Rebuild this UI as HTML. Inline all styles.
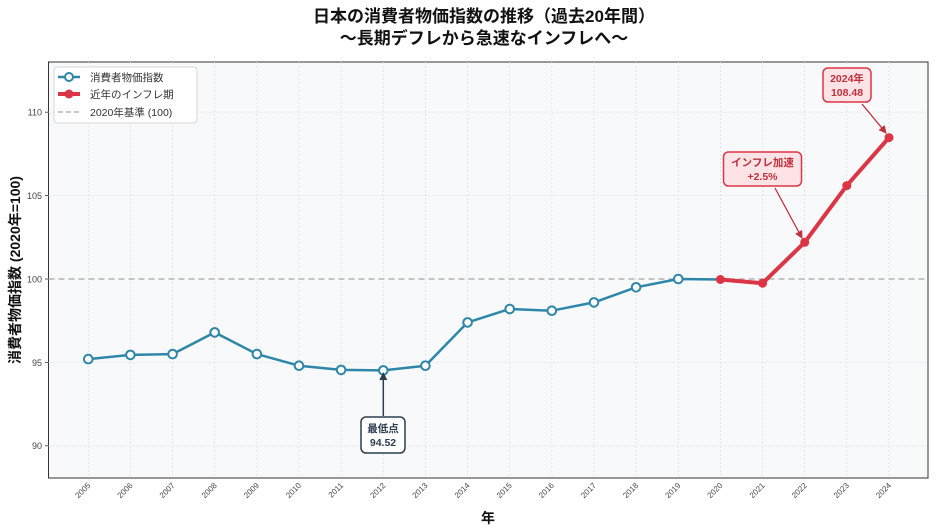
<!DOCTYPE html>
<html><head><meta charset="utf-8"><style>
body{margin:0;background:#fff;}
svg{display:block;font-family:"Liberation Sans","Noto Sans CJK JP",sans-serif;}
</style></head><body>
<svg width="936" height="532" viewBox="0 0 936 532" xmlns="http://www.w3.org/2000/svg">
<defs>
<marker id="ar" markerWidth="8" markerHeight="8" refX="7" refY="4" orient="auto" markerUnits="userSpaceOnUse"><path d="M0,0 L8,4 L0,8 Z" fill="#c0303d"/></marker>
<marker id="ak" markerWidth="8" markerHeight="8" refX="7" refY="4" orient="auto" markerUnits="userSpaceOnUse"><path d="M0,0 L8,4 L0,8 Z" fill="#2c3e50"/></marker>
</defs>
<text x="484" y="22" text-anchor="middle" font-size="17" font-weight="bold" fill="#111">日本の消費者物価指数の推移（過去20年間）</text>
<text x="484" y="44" text-anchor="middle" font-size="17" font-weight="bold" fill="#111">～長期デフレから急速なインフレへ～</text>
<rect x="48.5" y="62" width="879.5" height="416" fill="#f8f9fa" stroke="#333" stroke-width="1"/>
<g stroke="#dde1e6" stroke-width="0.8" stroke-dasharray="2,2">
<line x1="48.5" x2="928" y1="112.2" y2="112.2"/><line x1="48.5" x2="928" y1="195.6" y2="195.6"/><line x1="48.5" x2="928" y1="362.4" y2="362.4"/><line x1="48.5" x2="928" y1="445.8" y2="445.8"/>
<line x1="88.3" x2="88.3" y1="62" y2="478"/><line x1="130.4" x2="130.4" y1="62" y2="478"/><line x1="172.6" x2="172.6" y1="62" y2="478"/><line x1="214.7" x2="214.7" y1="62" y2="478"/><line x1="256.9" x2="256.9" y1="62" y2="478"/><line x1="299" x2="299" y1="62" y2="478"/><line x1="341.1" x2="341.1" y1="62" y2="478"/><line x1="383.3" x2="383.3" y1="62" y2="478"/><line x1="425.4" x2="425.4" y1="62" y2="478"/><line x1="467.6" x2="467.6" y1="62" y2="478"/><line x1="509.7" x2="509.7" y1="62" y2="478"/><line x1="551.8" x2="551.8" y1="62" y2="478"/><line x1="594" x2="594" y1="62" y2="478"/><line x1="636.1" x2="636.1" y1="62" y2="478"/><line x1="678.3" x2="678.3" y1="62" y2="478"/><line x1="720.4" x2="720.4" y1="62" y2="478"/><line x1="762.6" x2="762.6" y1="62" y2="478"/><line x1="804.7" x2="804.7" y1="62" y2="478"/><line x1="846.8" x2="846.8" y1="62" y2="478"/><line x1="889" x2="889" y1="62" y2="478"/>
</g>
<line x1="48.5" x2="928" y1="279" y2="279" stroke="#b5b5b5" stroke-width="1.5" stroke-dasharray="6,4"/>
<g font-size="9" fill="#444" text-anchor="end">
<text x="42" y="115.5">110</text><text x="42" y="199">105</text><text x="42" y="282.5">100</text><text x="42" y="366">95</text><text x="42" y="449">90</text>
</g>
<g stroke="#333" stroke-width="0.8">
<line x1="45" x2="48.5" y1="112.2" y2="112.2"/><line x1="45" x2="48.5" y1="195.6" y2="195.6"/><line x1="45" x2="48.5" y1="279" y2="279"/><line x1="45" x2="48.5" y1="362.4" y2="362.4"/><line x1="45" x2="48.5" y1="445.8" y2="445.8"/>
</g>
<g font-size="8" fill="#444" text-anchor="end">
<text transform="translate(91,486) rotate(-45)">2005</text><text transform="translate(133.1,486) rotate(-45)">2006</text><text transform="translate(175.3,486) rotate(-45)">2007</text><text transform="translate(217.4,486) rotate(-45)">2008</text><text transform="translate(259.6,486) rotate(-45)">2009</text><text transform="translate(301.7,486) rotate(-45)">2010</text><text transform="translate(343.8,486) rotate(-45)">2011</text><text transform="translate(386,486) rotate(-45)">2012</text><text transform="translate(428.1,486) rotate(-45)">2013</text><text transform="translate(470.3,486) rotate(-45)">2014</text><text transform="translate(512.4,486) rotate(-45)">2015</text><text transform="translate(554.5,486) rotate(-45)">2016</text><text transform="translate(596.7,486) rotate(-45)">2017</text><text transform="translate(638.8,486) rotate(-45)">2018</text><text transform="translate(681,486) rotate(-45)">2019</text><text transform="translate(723.1,486) rotate(-45)">2020</text><text transform="translate(765.3,486) rotate(-45)">2021</text><text transform="translate(807.4,486) rotate(-45)">2022</text><text transform="translate(849.5,486) rotate(-45)">2023</text><text transform="translate(891.7,486) rotate(-45)">2024</text>
</g>
<text x="488" y="523" text-anchor="middle" font-size="14" font-weight="bold" fill="#111">年</text>
<text transform="translate(20,270) rotate(-90)" text-anchor="middle" font-size="14" font-weight="bold" fill="#111">消費者物価指数 (2020年=100)</text>
<polyline fill="none" stroke="#2e86a8" stroke-width="2.5" stroke-linejoin="round" points="88.3,359.1 130.4,354.9 172.6,354.1 214.7,332.4 256.9,354.1 299,365.7 341.1,369.9 383.3,370.4 425.4,365.7 467.6,322.4 509.7,309 551.8,310.7 594,302.4 636.1,287.3 678.3,279 720.4,279.5"/>
<g fill="#fff" stroke="#2e86a8" stroke-width="2">
<circle cx="88.3" cy="359.1" r="4.3"/><circle cx="130.4" cy="354.9" r="4.3"/><circle cx="172.6" cy="354.1" r="4.3"/><circle cx="214.7" cy="332.4" r="4.3"/><circle cx="256.9" cy="354.1" r="4.3"/><circle cx="299" cy="365.7" r="4.3"/><circle cx="341.1" cy="369.9" r="4.3"/><circle cx="383.3" cy="370.4" r="4.3"/><circle cx="425.4" cy="365.7" r="4.3"/><circle cx="467.6" cy="322.4" r="4.3"/><circle cx="509.7" cy="309" r="4.3"/><circle cx="551.8" cy="310.7" r="4.3"/><circle cx="594" cy="302.4" r="4.3"/><circle cx="636.1" cy="287.3" r="4.3"/><circle cx="678.3" cy="279" r="4.3"/>
</g>
<polyline fill="none" stroke="#dc3545" stroke-width="4" stroke-linejoin="round" points="720.4,279.5 762.6,283.2 804.7,242.3 846.8,185.6 889,137.6"/>
<g fill="#dc3545"><circle cx="720.4" cy="279.5" r="4.5"/><circle cx="762.6" cy="283.2" r="4.5"/><circle cx="804.7" cy="242.3" r="4.5"/><circle cx="846.8" cy="185.6" r="4.5"/><circle cx="889" cy="137.6" r="4.5"/></g>
<line x1="383.3" y1="416" x2="383.3" y2="373" stroke="#2c3e50" stroke-width="1.5" marker-end="url(#ak)"/>
<rect x="361" y="417" width="44" height="36" rx="5" fill="#fff" stroke="#2c3e50" stroke-width="1.5"/>
<text x="383" y="432" text-anchor="middle" font-size="10.5" font-weight="bold" fill="#2c3e50">最低点</text>
<text x="383" y="446" text-anchor="middle" font-size="10.5" font-weight="bold" fill="#2c3e50">94.52</text>
<line x1="775" y1="188" x2="802" y2="238" stroke="#c0303d" stroke-width="1.3" marker-end="url(#ar)"/>
<rect x="723.5" y="152" width="78" height="34" rx="5" fill="#fde3e5" stroke="#dc3545" stroke-width="1.5"/>
<text x="762.5" y="166" text-anchor="middle" font-size="10.5" font-weight="bold" fill="#c0303d">インフレ加速</text>
<text x="762.5" y="180" text-anchor="middle" font-size="10.5" font-weight="bold" fill="#c0303d">+2.5%</text>
<line x1="862" y1="104" x2="886" y2="133" stroke="#c0303d" stroke-width="1.3" marker-end="url(#ar)"/>
<rect x="823" y="68" width="48" height="34" rx="5" fill="#fde3e5" stroke="#dc3545" stroke-width="1.5"/>
<text x="847" y="82" text-anchor="middle" font-size="10.5" font-weight="bold" fill="#c0303d">2024年</text>
<text x="847" y="96" text-anchor="middle" font-size="10.5" font-weight="bold" fill="#c0303d">108.48</text>
<rect x="54" y="67" width="143" height="56" rx="3" fill="#fff" fill-opacity="0.9" stroke="#ccc" stroke-width="0.8"/>
<line x1="58" x2="80" y1="77" y2="77" stroke="#2e86a8" stroke-width="2.5"/><circle cx="69" cy="77" r="4" fill="#fff" stroke="#2e86a8" stroke-width="2"/>
<line x1="58" x2="80" y1="94" y2="94" stroke="#dc3545" stroke-width="4"/><circle cx="69" cy="94" r="4.5" fill="#dc3545"/>
<line x1="58" x2="80" y1="112" y2="112" stroke="#b5b5b5" stroke-width="1.5" stroke-dasharray="5,3"/>
<g font-size="10.5" fill="#333"><text x="90" y="81">消費者物価指数</text><text x="90" y="98">近年のインフレ期</text><text x="90" y="116">2020年基準 (100)</text></g>
</svg>
</body></html>
